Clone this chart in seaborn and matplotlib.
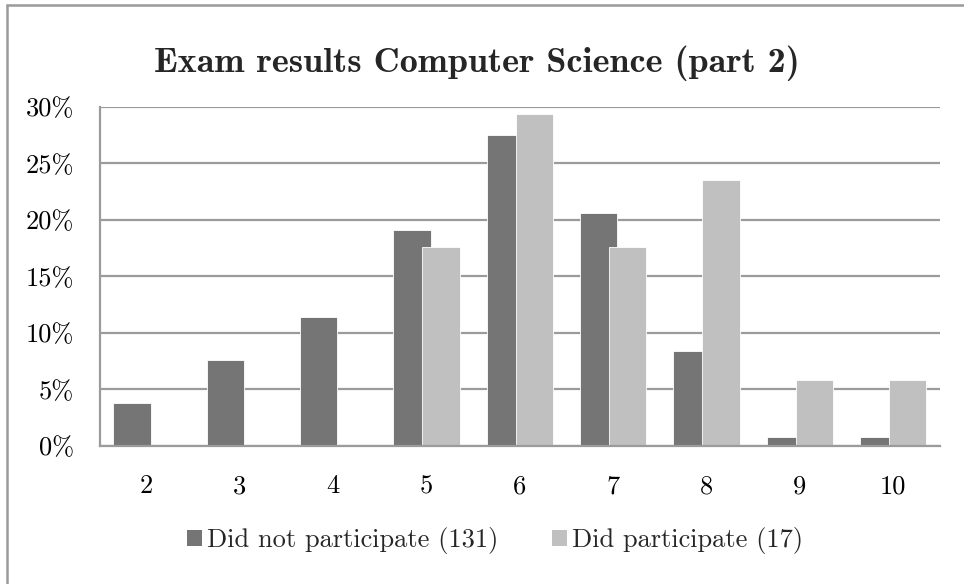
import matplotlib

matplotlib.use("Agg")
import matplotlib.pyplot as plt
import pandas as pd
import seaborn as sns
from matplotlib.lines import Line2D
from matplotlib.patches import Patch
from matplotlib.ticker import FuncFormatter

# data (percent of students per grade)
grades = ["2", "3", "4", "5", "6", "7", "8", "9", "10"]
not_participated = [3.82, 7.63, 11.45, 19.08, 27.48, 20.61, 8.40, 0.76, 0.76]
participated = [0.0, 0.0, 0.0, 17.65, 29.41, 17.65, 23.53, 5.88, 5.88]
series = ["Did not participate (131)", "Did participate (17)"]
colors = ["#757575", "#c0c0c0"]

df = pd.DataFrame({
    "grade": grades * 2,
    "pct": not_participated + participated,
    "group": [series[0]] * len(grades) + [series[1]] * len(grades),
})

sns.set_style("white")
plt.rcParams["font.family"] = ["cmr10", "DejaVu Serif"]
plt.rcParams["axes.formatter.use_mathtext"] = True

fig = plt.figure(figsize=(9.64, 5.84), dpi=100)
ax = fig.add_axes([0.1037, 0.2363, 0.8713, 0.5805])

sns.barplot(data=df, x="grade", y="pct", hue="group", palette=colors,
            width=0.8, dodge=True, saturation=1, legend=False,
            edgecolor="white", linewidth=0.6, ax=ax)

# make the two series overlap a little, like the original
for shift, cont in zip([0.045, -0.045], ax.containers):
    for bar in cont:
        bar.set_x(bar.get_x() + shift)

grid_c = "#9b9b9b"
ax.set_ylim(0, 30)
ax.set_yticks(range(0, 31, 5))
ax.yaxis.set_major_formatter(FuncFormatter(lambda v, _: f"{v:.0f}%"))
ax.set_xlim(-0.5, len(grades) - 0.5)
ax.yaxis.grid(True, color=grid_c, linewidth=1.6)
ax.set_axisbelow(True)
ax.set_xlabel("")
ax.set_ylabel("")
for side in ["top", "right"]:
    ax.spines[side].set_visible(False)
for side in ["left", "bottom"]:
    ax.spines[side].set_color(grid_c)
    ax.spines[side].set_linewidth(1.6)
ax.tick_params(axis="both", length=0, labelsize=19, colors="black")
ax.tick_params(axis="x", pad=20.5)
ax.tick_params(axis="y", pad=18.5)

fig.text(0.495, 0.891, "Exam results Computer Science (part 2)",
         ha="center", va="center", fontsize=26, family="cmb10")

handles = [Patch(facecolor=c, edgecolor="none") for c in colors]
fig.legend(handles, series, loc="center", bbox_to_anchor=(0.5135, 0.074),
           ncol=2, frameon=False, fontsize=19, handlelength=0.57,
           handleheight=0.57, handletextpad=0.2, columnspacing=2.0)

# outer chart frame (only top and left edges are visible)
fig.add_artist(Line2D([0.0075, 0.0075], [0, 0.991], transform=fig.transFigure,
                      color=grid_c, linewidth=1.8))
fig.add_artist(Line2D([0.0075, 1.0], [0.991, 0.991], transform=fig.transFigure,
                      color=grid_c, linewidth=1.8))

fig.savefig("out.png", dpi=100)
plt.close(fig)
